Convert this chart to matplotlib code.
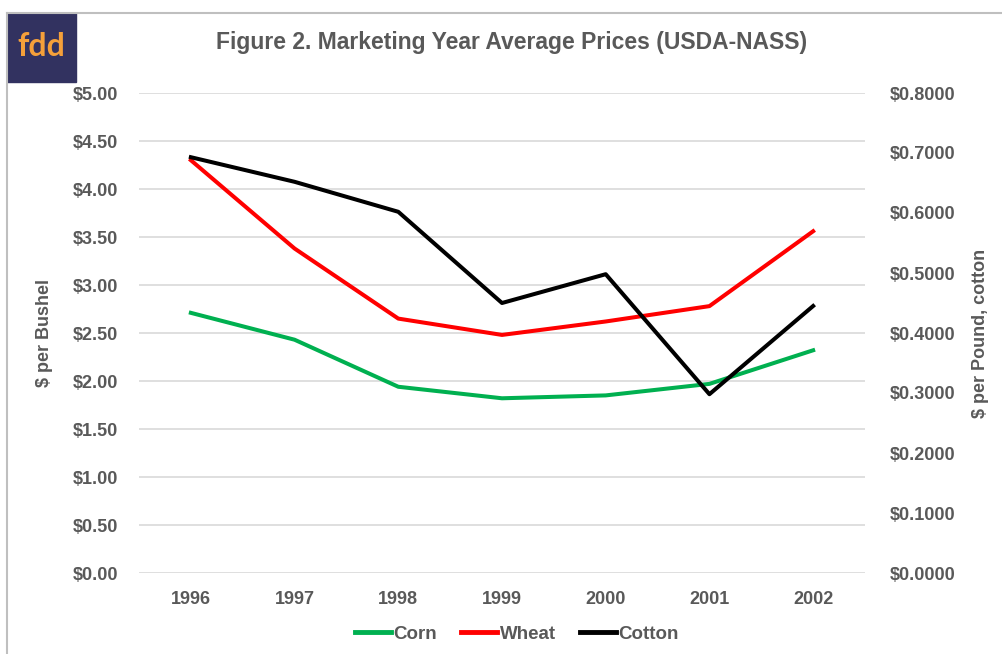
import matplotlib
matplotlib.use("Agg")
import matplotlib.pyplot as plt
from matplotlib.patches import Rectangle
from matplotlib.lines import Line2D
from matplotlib.ticker import FuncFormatter

plt.rcParams["font.family"] = ["Liberation Sans", "DejaVu Sans"]
plt.rcParams["font.weight"] = "bold"
plt.rcParams["axes.labelweight"] = "bold"

years = ["1996", "1997", "1998", "1999", "2000", "2001", "2002"]
corn = [2.71, 2.43, 1.94, 1.82, 1.85, 1.97, 2.32]
wheat = [4.30, 3.38, 2.65, 2.48, 2.62, 2.78, 3.56]
cotton = [0.693, 0.652, 0.602, 0.450, 0.498, 0.298, 0.445]

TXT = "#595959"
W, H = 1003, 654

fig = plt.figure(figsize=(W / 100, H / 100), dpi=100)
ax = fig.add_axes([139 / W, 1 - 573 / H, (865 - 139) / W, (573 - 93) / H])
ax2 = ax.twinx()

x = range(len(years))
ax.plot(x, corn, color="#00B050", lw=2.9, solid_joinstyle="round", zorder=3)
ax.plot(x, wheat, color="#FF0000", lw=2.9, solid_joinstyle="round", zorder=3)
ax2.plot(x, cotton, color="black", lw=2.9, solid_joinstyle="round", zorder=3)

ax.set_xlim(-0.5, len(years) - 0.5)
ax.set_ylim(0, 5)
ax2.set_ylim(0, 0.8)
ax.set_yticks([i * 0.5 for i in range(11)])
ax2.set_yticks([i * 0.1 for i in range(9)])
ax.yaxis.set_major_formatter(FuncFormatter(lambda v, p: f"${v:.2f}"))
ax2.yaxis.set_major_formatter(FuncFormatter(lambda v, p: f"${v:.4f}"))
ax.set_xticks(list(x))
ax.set_xticklabels(years)

ax.grid(axis="y", color="#d9d9d9", lw=1.2)
ax.set_axisbelow(True)
for a in (ax, ax2):
    for s in a.spines.values():
        s.set_visible(False)
    a.tick_params(length=0, labelsize=13, labelcolor=TXT)
ax.tick_params(axis="y", pad=15)
ax2.tick_params(axis="y", pad=18)
ax.tick_params(axis="x", pad=13)

ax.set_ylabel("$ per Bushel", fontsize=13, color=TXT, labelpad=14)
ax2.set_ylabel("$ per Pound, cotton", fontsize=13, color=TXT, labelpad=12)

fig.text(512 / W, 1 - 42 / H, "Figure 2. Marketing Year Average Prices (USDA-NASS)",
         ha="center", va="center", fontsize=16.5, color=TXT, weight="bold")

handles = [Line2D([], [], color="#00B050", lw=3.5),
           Line2D([], [], color="#FF0000", lw=3.5),
           Line2D([], [], color="black", lw=3.5)]
leg = fig.legend(handles, ["Corn", "Wheat", "Cotton"], loc="center",
                 bbox_to_anchor=(517 / W, 1 - 634 / H), ncol=3, frameon=False,
                 fontsize=13.5, handlelength=1.9, handletextpad=0.15, columnspacing=1.3)
for t in leg.get_texts():
    t.set_color(TXT)

# outer border
fig.add_artist(Line2D([7 / W, 7 / W], [0, 1 - 13 / H], color="#bfbfbf", lw=1.5))
fig.add_artist(Line2D([7 / W, 1], [1 - 13 / H, 1 - 13 / H], color="#bfbfbf", lw=1.5))

# logo
fig.add_artist(Rectangle((7 / W, 1 - 82 / H), 69 / W, 69 / H, color="#323260",
                         transform=fig.transFigure))
fig.text(41 / W, 1 - 47 / H, "fdd", ha="center", va="center", fontsize=23,
         color="#F5A03A", weight="bold", family=["Lato", "DejaVu Sans"])

fig.savefig("out.png", dpi=100)
